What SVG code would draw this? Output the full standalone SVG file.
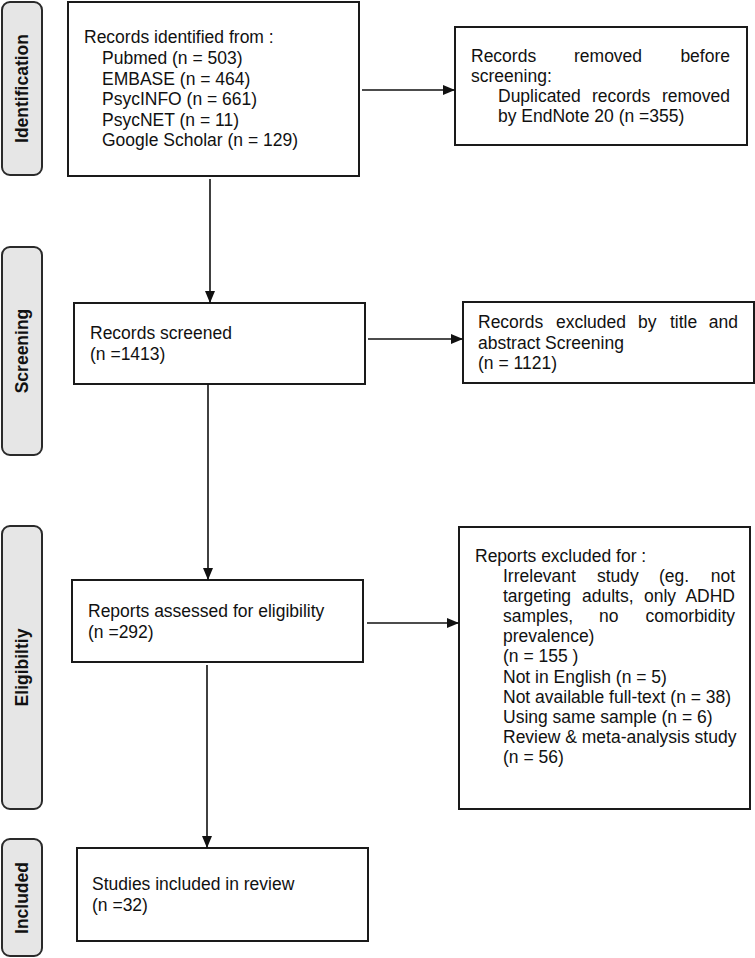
<svg xmlns="http://www.w3.org/2000/svg" width="755" height="958" viewBox="0 0 755 958">
<style>
.box{fill:#fff;stroke:#1a1a1a;stroke-width:2}
.phase{fill:#e6e6e6;stroke:#2a2a2a;stroke-width:2}
.t{font-family:"Liberation Sans",Arial,sans-serif;font-size:17.5px;fill:#111}
.pt{font-family:"Liberation Sans",Arial,sans-serif;font-size:17.5px;font-weight:bold;fill:#111;text-anchor:middle}
.c{stroke:#111;stroke-width:1.6;fill:none;marker-end:url(#ah)}
.e{text-anchor:end}
</style>
<defs>
<marker id="ah" markerUnits="userSpaceOnUse" markerWidth="12" markerHeight="12" viewBox="0 0 12 12" refX="12" refY="6" orient="auto">
<path d="M0,1 L12,6 L0,11 Z" fill="#111"/>
</marker>
</defs>
<g id="phase-identification"><rect class="phase" x="2" y="2" width="40" height="173" rx="8"/><text class="pt" transform="translate(28,88.5) rotate(-90)">Identification</text></g>
<g id="phase-screening"><rect class="phase" x="2" y="247" width="40" height="208" rx="8"/><text class="pt" transform="translate(28,351) rotate(-90)">Screening</text></g>
<g id="phase-eligibility"><rect class="phase" x="2" y="526" width="40" height="283" rx="8"/><text class="pt" transform="translate(28,667.5) rotate(-90)">Eligibiltiy</text></g>
<g id="phase-included"><rect class="phase" x="2" y="839" width="40" height="117" rx="8"/><text class="pt" transform="translate(28,898) rotate(-90)">Included</text></g>

<g id="identified"><rect class="box" x="68" y="2" width="291" height="174"/>
<text class="t"><tspan x="84" y="43">Records identified from :</tspan><tspan x="102" y="64">Pubmed (n = 503)</tspan><tspan x="102" y="84.5">EMBASE (n = 464)</tspan><tspan x="102" y="105">PsycINFO (n = 661)</tspan><tspan x="102" y="125.5">PsycNET (n = 11)</tspan><tspan x="102" y="146">Google Scholar (n = 129)</tspan></text></g>

<g id="removed"><rect class="box" x="455" y="27" width="292" height="118"/>
<text class="t"><tspan x="471" y="62">Records</tspan><tspan x="574" y="62">removed</tspan><tspan class="e" x="730" y="62">before</tspan><tspan x="471" y="82">screening:</tspan><tspan x="498" y="102">Duplicated</tspan><tspan x="592" y="102">records</tspan><tspan class="e" x="730" y="102">removed</tspan><tspan x="498" y="122">by EndNote 20 (n =355)</tspan></text></g>

<g id="screened"><rect class="box" x="74" y="303" width="291" height="81"/>
<text class="t"><tspan x="90" y="339">Records screened</tspan><tspan x="90" y="360">(n =1413)</tspan></text></g>

<g id="excluded-title"><rect class="box" x="463" y="302" width="291" height="81"/>
<text class="t"><tspan x="478" y="328">Records</tspan><tspan x="556" y="328">excluded</tspan><tspan x="638" y="328">by</tspan><tspan x="670" y="328">title</tspan><tspan class="e" x="738" y="328">and</tspan><tspan x="478" y="349">abstract Screening</tspan><tspan x="478" y="369">(n = 1121)</tspan></text></g>

<g id="assessed"><rect class="box" x="72" y="580" width="291" height="82"/>
<text class="t"><tspan x="88" y="617">Reports assessed for eligibility</tspan><tspan x="88" y="638">(n =292)</tspan></text></g>

<g id="excluded-reports"><rect class="box" x="459" y="527" width="291" height="282"/>
<text class="t"><tspan x="475" y="562">Reports excluded for :</tspan><tspan x="503" y="582">Irrelevant</tspan><tspan x="597" y="582">study</tspan><tspan x="659" y="582">(eg.</tspan><tspan class="e" x="735" y="582">not</tspan><tspan x="503" y="602">targeting</tspan><tspan x="582" y="602">adults,</tspan><tspan x="644" y="602">only</tspan><tspan class="e" x="735" y="602">ADHD</tspan><tspan x="503" y="622">samples,</tspan><tspan x="599" y="622">no</tspan><tspan class="e" x="735" y="622">comorbidity</tspan><tspan x="503" y="642">prevalence)</tspan><tspan x="503" y="662">(n = 155 )</tspan><tspan x="503" y="683">Not in English (n = 5)</tspan><tspan x="503" y="703">Not available full-text (n = 38)</tspan><tspan x="503" y="723">Using same sample (n = 6)</tspan><tspan x="503" y="743">Review &amp; meta-analysis study</tspan><tspan x="503" y="763">(n = 56)</tspan></text></g>

<g id="included"><rect class="box" x="77" y="848" width="291" height="93"/>
<text class="t"><tspan x="92" y="890">Studies included in review</tspan><tspan x="92" y="911">(n =32)</tspan></text></g>

<g id="connectors">
<line class="c" x1="362" y1="90" x2="455" y2="90"/>
<line class="c" x1="210" y1="179" x2="210" y2="303"/>
<line class="c" x1="368" y1="339" x2="463" y2="339"/>
<line class="c" x1="208" y1="384" x2="208" y2="580"/>
<line class="c" x1="367" y1="623" x2="459" y2="623"/>
<line class="c" x1="207" y1="665" x2="207" y2="848"/>
</g>
</svg>
